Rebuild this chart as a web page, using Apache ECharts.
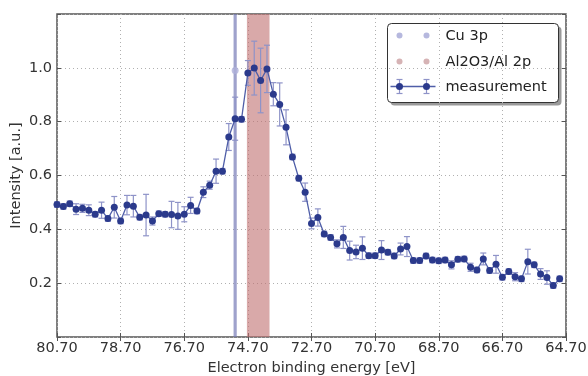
<!DOCTYPE html>
<html>
<head>
<meta charset="utf-8">
<script src="https://cdn.jsdelivr.net/npm/echarts@6/dist/echarts.min.js"></script>
<style>
  html, body { margin: 0; padding: 0; background: #fff; }
  #chart { width: 588px; height: 376px; }
</style>
</head>
<body>
<div id="chart"></div>
<script>
// binding energies (eV), one point every 0.2 eV
var energy = [80.7, 80.5, 80.3, 80.1, 79.9, 79.7, 79.5, 79.3, 79.1, 78.9,
    78.7, 78.5, 78.3, 78.1, 77.9, 77.7, 77.5, 77.3, 77.1, 76.9,
    76.7, 76.5, 76.3, 76.1, 75.9, 75.7, 75.5, 75.3, 75.1, 74.9,
    74.7, 74.5, 74.3, 74.1, 73.9, 73.7, 73.5, 73.3, 73.1, 72.9,
    72.7, 72.5, 72.3, 72.1, 71.9, 71.7, 71.5, 71.3, 71.1, 70.9,
    70.7, 70.5, 70.3, 70.1, 69.9, 69.7, 69.5, 69.3, 69.1, 68.9,
    68.7, 68.5, 68.3, 68.1, 67.9, 67.7, 67.5, 67.3, 67.1, 66.9,
    66.7, 66.5, 66.3, 66.1, 65.9, 65.7, 65.5, 65.3, 65.1, 64.9];
var intensity = [0.492, 0.485, 0.495, 0.475, 0.478, 0.471, 0.456, 0.471, 0.440, 0.482,
    0.431, 0.490, 0.486, 0.445, 0.453, 0.431, 0.458, 0.456, 0.455, 0.450,
    0.456, 0.489, 0.468, 0.538, 0.564, 0.616, 0.616, 0.743, 0.811, 0.809,
    0.981, 0.999, 0.953, 0.996, 0.902, 0.864, 0.779, 0.669, 0.590, 0.538,
    0.422, 0.444, 0.383, 0.370, 0.346, 0.370, 0.321, 0.316, 0.330, 0.302,
    0.302, 0.323, 0.315, 0.301, 0.327, 0.336, 0.284, 0.284, 0.301, 0.286,
    0.283, 0.286, 0.268, 0.289, 0.290, 0.259, 0.249, 0.290, 0.247, 0.270,
    0.222, 0.243, 0.224, 0.216, 0.280, 0.268, 0.234, 0.221, 0.191, 0.216];
var errors = [0.010, 0.010, 0.010, 0.020, 0.015, 0.020, 0.010, 0.030, 0.010, 0.040,
    0.010, 0.036, 0.040, 0.010, 0.077, 0.015, 0.010, 0.010, 0.049, 0.050,
    0.028, 0.030, 0.010, 0.020, 0.015, 0.045, 0.010, 0.050, 0.080, 0.010,
    0.046, 0.100, 0.120, 0.088, 0.043, 0.080, 0.065, 0.010, 0.010, 0.034,
    0.020, 0.032, 0.010, 0.010, 0.015, 0.041, 0.035, 0.025, 0.042, 0.010,
    0.010, 0.035, 0.010, 0.010, 0.022, 0.037, 0.010, 0.010, 0.010, 0.010,
    0.010, 0.010, 0.015, 0.010, 0.010, 0.015, 0.010, 0.022, 0.010, 0.033,
    0.010, 0.010, 0.015, 0.010, 0.046, 0.010, 0.020, 0.025, 0.010, 0.010];

// reference lines
var cuBand = [75.15, 75.05];
var alBand = [74.73, 74.02];
var cuMarker = [[75.1, 0.99]];

var xRange = [64.7, 80.7];
var yRange = [0, 1.2];

var FONT = 'DejaVu Sans';
var FS = 14.5;

var lineData = [], errData = [];
for (var i = 0; i < energy.length; i++) {
    lineData.push([energy[i], intensity[i]]);
    errData.push([energy[i], intensity[i] - errors[i], intensity[i] + errors[i]]);
}

var myChart = echarts.init(document.getElementById('chart'));

var gridLine = {
    show: true,
    lineStyle: { color: '#b0b0b0', type: [1, 3], width: 1 }
};

var option = {
    animation: false,
    backgroundColor: '#fff',
    grid: {
        left: 57, right: 22, top: 14, bottom: 39,
        outerBoundsMode: 'none',
        containLabel: false,
        show: true,
        borderColor: '#555',
        borderWidth: 1.5,
        backgroundColor: 'transparent'
    },
    xAxis: [{
        type: 'value',
        inverse: true,
        min: xRange[0],
        max: xRange[1],
        interval: 2,
        name: 'Electron binding energy [eV]',
        nameLocation: 'middle',
        nameGap: 24,
        nameMoveOverlap: false,
        nameTextStyle: { fontFamily: FONT, fontSize: FS, color: '#333' },
        axisLine: { show: false },
        axisTick: { show: true, inside: true, length: 4, lineStyle: { color: '#555' } },
        axisLabel: {
            fontFamily: FONT, fontSize: FS, color: '#333', margin: 4,
            formatter: function (v) { return v.toFixed(2); }
        },
        splitLine: gridLine
    }, {
        type: 'value',
        position: 'top',
        inverse: true,
        min: xRange[0],
        max: xRange[1],
        interval: 2,
        axisLine: { show: false },
        axisTick: { show: true, inside: true, length: 4, lineStyle: { color: '#555' } },
        axisLabel: { show: false },
        splitLine: { show: false }
    }],
    yAxis: [{
        type: 'value',
        min: yRange[0],
        max: yRange[1],
        interval: 0.2,
        name: 'Intensity [a.u.]',
        nameLocation: 'middle',
        nameGap: 33,
        nameMoveOverlap: false,
        nameTextStyle: { fontFamily: FONT, fontSize: FS, color: '#333' },
        axisLine: { show: false },
        axisTick: { show: true, inside: true, length: 4, lineStyle: { color: '#555' } },
        axisLabel: {
            fontFamily: FONT, fontSize: FS, color: '#333', margin: 5,
            formatter: function (v) {
                if (v < 0.01 || v > 1.19) return '';
                return v.toFixed(1);
            }
        },
        splitLine: gridLine
    }, {
        type: 'value',
        position: 'right',
        min: yRange[0],
        max: yRange[1],
        interval: 0.2,
        axisLine: { show: false },
        axisTick: { show: true, inside: true, length: 4, lineStyle: { color: '#555' } },
        axisLabel: { show: false },
        splitLine: { show: false }
    }],
    series: [{
        name: 'Cu 3p',
        type: 'scatter',
        data: cuMarker,
        symbolSize: 7,
        z: 1,
        itemStyle: { color: '#aeb0da' },
        markArea: {
            silent: true,
            itemStyle: { color: 'rgba(118,122,182,0.7)' },
            data: [[{ xAxis: cuBand[0] }, { xAxis: cuBand[1] }]]
        }
    }, {
        name: 'Al2O3/Al 2p',
        type: 'scatter',
        data: [],
        z: 1,
        itemStyle: { color: '#d8b2b4' },
        markArea: {
            silent: true,
            itemStyle: { color: 'rgba(192,112,112,0.6)' },
            data: [[{ xAxis: alBand[0] }, { xAxis: alBand[1] }]]
        }
    }, {
        name: 'errors',
        type: 'custom',
        z: 2,
        data: errData,
        encode: { x: 0, y: [1, 2] },
        renderItem: function (params, api) {
            var x = api.value(0);
            var lo = api.coord([x, api.value(1)]);
            var hi = api.coord([x, api.value(2)]);
            var cap = 3;
            var st = { stroke: '#8e93c8', lineWidth: 1.2 };
            return {
                type: 'group',
                children: [
                    { type: 'line', shape: { x1: lo[0], y1: lo[1], x2: hi[0], y2: hi[1] }, style: st },
                    { type: 'line', shape: { x1: lo[0] - cap, y1: lo[1], x2: lo[0] + cap, y2: lo[1] }, style: st },
                    { type: 'line', shape: { x1: hi[0] - cap, y1: hi[1], x2: hi[0] + cap, y2: hi[1] }, style: st }
                ]
            };
        }
    }, {
        name: 'measurement',
        type: 'line',
        z: 3,
        data: lineData,
        symbol: 'circle',
        symbolSize: 7,
        showAllSymbol: true,
        lineStyle: { color: '#4f5ea8', width: 1.3 },
        itemStyle: { color: '#2b3a8c' }
    }],
    graphic: [{
        type: 'group',
        left: 387,
        top: 23,
        children: [
            { type: 'rect', shape: { x: 3, y: 3, width: 171, height: 79, r: 4 }, style: { fill: '#9a9a9a' } },
            { type: 'rect', shape: { x: 0, y: 0, width: 171, height: 79, r: 4 }, style: { fill: '#fff', stroke: '#333', lineWidth: 1 } },
            { type: 'circle', shape: { cx: 12, cy: 12, r: 3 }, style: { fill: '#b6b8de' } },
            { type: 'circle', shape: { cx: 39, cy: 12, r: 3 }, style: { fill: '#b6b8de' } },
            { type: 'text', style: { x: 58, y: 12.5, text: 'Cu 3p', fill: '#222', font: FS + 'px "' + FONT + '"', verticalAlign: 'middle' } },
            { type: 'circle', shape: { cx: 12, cy: 38, r: 3 }, style: { fill: '#d6b3b5' } },
            { type: 'circle', shape: { cx: 39, cy: 38, r: 3 }, style: { fill: '#d6b3b5' } },
            { type: 'text', style: { x: 58, y: 38.5, text: 'Al2O3/Al 2p', fill: '#222', font: FS + 'px "' + FONT + '"', verticalAlign: 'middle' } },
            { type: 'line', shape: { x1: 3, y1: 63, x2: 48, y2: 63 }, style: { stroke: '#4f5ea8', lineWidth: 1.3 } },
            { type: 'line', shape: { x1: 12, y1: 56, x2: 12, y2: 70 }, style: { stroke: '#8e93c8', lineWidth: 1.2 } },
            { type: 'line', shape: { x1: 9, y1: 56, x2: 15, y2: 56 }, style: { stroke: '#8e93c8', lineWidth: 1.2 } },
            { type: 'line', shape: { x1: 9, y1: 70, x2: 15, y2: 70 }, style: { stroke: '#8e93c8', lineWidth: 1.2 } },
            { type: 'line', shape: { x1: 39, y1: 56, x2: 39, y2: 70 }, style: { stroke: '#8e93c8', lineWidth: 1.2 } },
            { type: 'line', shape: { x1: 36, y1: 56, x2: 42, y2: 56 }, style: { stroke: '#8e93c8', lineWidth: 1.2 } },
            { type: 'line', shape: { x1: 36, y1: 70, x2: 42, y2: 70 }, style: { stroke: '#8e93c8', lineWidth: 1.2 } },
            { type: 'circle', shape: { cx: 12, cy: 63, r: 3.5 }, style: { fill: '#2b3a8c' } },
            { type: 'circle', shape: { cx: 39, cy: 63, r: 3.5 }, style: { fill: '#2b3a8c' } },
            { type: 'text', style: { x: 58, y: 63.5, text: 'measurement', fill: '#222', font: FS + 'px "' + FONT + '"', verticalAlign: 'middle' } }
        ]
    }]
};

myChart.setOption(option);
window.addEventListener('resize', function () {
    myChart.resize();
});
</script>
</body>
</html>
